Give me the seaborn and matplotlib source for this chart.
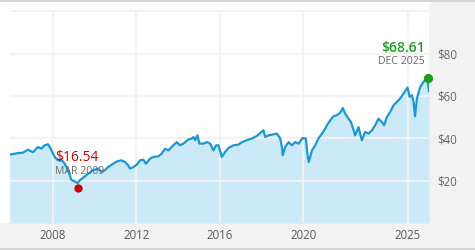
import matplotlib
matplotlib.use("Agg")
import matplotlib.pyplot as plt
from matplotlib.patches import Rectangle
import seaborn as sns
import pandas as pd

# ---- data ----
years = [2005.92, 2006.32, 2006.56, 2006.80, 2007.04, 2007.28, 2007.44, 2007.60, 2007.76, 2007.89,
         2008.08, 2008.24, 2008.40, 2008.56, 2008.72, 2008.88, 2009.04, 2009.18, 2009.28, 2009.44,
         2009.68, 2009.92, 2010.16, 2010.32, 2010.48, 2010.64, 2010.88, 2011.07, 2011.29, 2011.45,
         2011.61, 2011.69, 2011.85, 2012.01, 2012.17, 2012.33, 2012.46, 2012.65, 2012.81, 2013.05,
         2013.21, 2013.37, 2013.53, 2013.69, 2013.85, 2013.93, 2014.09, 2014.25, 2014.49, 2014.65,
         2014.73, 2014.81, 2014.92, 2015.02, 2015.21, 2015.37, 2015.53, 2015.69, 2015.82, 2015.93,
         2016.09, 2016.25, 2016.41, 2016.65, 2016.89, 2017.05, 2017.29, 2017.53, 2017.77, 2017.93,
         2018.09, 2018.17, 2018.33, 2018.49, 2018.73, 2018.89, 2018.97, 2019.01, 2019.13, 2019.29,
         2019.45, 2019.61, 2019.77, 2019.96, 2020.12, 2020.21, 2020.26, 2020.41, 2020.57, 2020.72,
         2020.89, 2021.05, 2021.13, 2021.29, 2021.44, 2021.61, 2021.77, 2021.89, 2022.00, 2022.16,
         2022.28, 2022.36, 2022.48, 2022.64, 2022.80, 2022.96, 2023.12, 2023.29, 2023.44, 2023.60,
         2023.76, 2023.87, 2024.00, 2024.16, 2024.32, 2024.48, 2024.64, 2024.80, 2024.99, 2025.09,
         2025.20, 2025.28, 2025.35, 2025.44, 2025.60, 2025.76, 2025.89, 2025.95, 2026.02]
prices = [32.3, 33.0, 33.2, 34.6, 33.4, 35.9, 35.1, 36.7, 37.2, 35.1,
          31.2, 29.6, 29.9, 28.0, 24.9, 20.4, 19.6, 18.8, 20.1, 21.4,
          23.3, 24.9, 25.7, 24.1, 24.9, 26.4, 28.0, 29.1, 29.6, 28.8,
          27.2, 25.7, 26.4, 27.5, 29.6, 29.9, 28.0, 30.4, 31.2, 31.5,
          32.8, 35.1, 34.3, 35.9, 37.5, 38.2, 36.7, 37.5, 39.4, 39.9,
          40.6, 39.1, 41.4, 37.5, 37.5, 38.2, 37.5, 34.3, 36.7, 36.7,
          31.2, 33.5, 35.4, 36.7, 37.0, 38.2, 39.1, 39.9, 41.1, 42.5,
          43.8, 40.6, 41.4, 41.7, 42.2, 39.9, 35.9, 32.0, 35.9, 38.2,
          36.7, 38.2, 37.5, 40.1, 39.9, 31.2, 28.8, 34.3, 36.7, 39.9,
          42.2, 44.6, 46.2, 48.5, 50.4, 50.9, 52.2, 54.3, 51.7, 49.3,
          47.7, 45.3, 41.4, 45.3, 39.1, 43.0, 42.2, 43.8, 46.2, 49.3,
          47.7, 46.2, 50.1, 52.4, 55.6, 57.2, 58.8, 61.2, 64.0, 59.6,
          60.4, 57.2, 50.4, 58.8, 64.3, 66.7, 67.9, 67.5, 62.2]

low_year, low_value, low_label, low_date = 2009.18, 16.54, "$16.54", "MAR 2009"
high_year, high_value, high_label, high_date = 2025.97, 68.61, "$68.61", "DEC 2025"

x_ticks = [2008, 2012, 2016, 2020, 2025]
x_tick_labels = ["2008", "2012", "2016", "2020", "2025"]
y_ticks = [20, 40, 60, 80, 100]
y_tick_labels = ["$20", "$40", "$60", "$80", ""]

df = pd.DataFrame({"year": years, "price": prices})

# ---- style ----
sns.set_style("white")
plt.rcParams["font.family"] = ["Open Sans", "DejaVu Sans"]

W, H = 475, 250
fig = plt.figure(figsize=(W / 100, H / 100), dpi=100, facecolor="white")

gray = "#f2f2f2"
# background bands (drawn beneath the axes)
for (x0, y0, w, h, c) in [
    (0, 2 / H, 1, 25 / H, gray),
    (429 / W, 2 / H, 1 - 429 / W, 246 / H, gray),
    (0, 248 / H, 1, 2 / H, "#d6d6d6"),
    (0, 0, 1, 2 / H, "#d6d6d6"),
]:
    fig.patches.append(Rectangle((x0, y0), w, h, transform=fig.transFigure,
                                 facecolor=c, edgecolor="none", zorder=-5))

ax = fig.add_axes([10 / W, 27 / H, 419 / W, 213 / H])
ax.set_facecolor("white")

line_color = "#1a98d6"
fill_color = "#cce9f7"

ax.fill_between(df["year"], df["price"], 0, color=fill_color, linewidth=0, zorder=1)
sns.lineplot(data=df, x="year", y="price", ax=ax, color=line_color, linewidth=1.6, zorder=3)

ax.set_xlim(2005.94, 2026.02)
ax.set_ylim(0, 100.6)

ax.set_xticks(x_ticks)
ax.set_xticklabels(x_tick_labels)
ax.set_yticks(y_ticks)
ax.set_yticklabels(y_tick_labels)
ax.yaxis.tick_right()
ax.tick_params(axis="x", length=0, pad=4.5, labelsize=8.3, labelcolor="#5a5a5a")
ax.tick_params(axis="y", length=0, pad=5.8, labelsize=8.3, labelcolor="#666666")
ax.set_xlabel("")
ax.set_ylabel("")
for s in ax.spines.values():
    s.set_visible(False)

ax.set_axisbelow(False)
ax.grid(True, color="#f2f2f2", linewidth=1.6, alpha=0.9)

# markers
ax.scatter([low_year], [low_value], s=36, color="#cc0000", zorder=5, clip_on=False, linewidths=0)
ax.scatter([high_year], [high_value], s=44, color="#1a9e1a", zorder=5, clip_on=False, linewidths=0)

ax.annotate(low_label, (low_year, low_value), xytext=(-22, 30), textcoords="offset pixels",
            ha="left", va="center", fontsize=10, color="#cc0000", zorder=6)
ax.annotate(low_date, (low_year, low_value), xytext=(-23, 16), textcoords="offset pixels",
            ha="left", va="center", fontsize=7.6, color="#6b6b6b", zorder=6)
ax.annotate(high_label, (high_year, high_value), xytext=(-3, 30), textcoords="offset pixels",
            ha="right", va="center", fontsize=10, color="#1a9e1a", fontweight="semibold", zorder=6)
ax.annotate(high_date, (high_year, high_value), xytext=(-3, 16), textcoords="offset pixels",
            ha="right", va="center", fontsize=7.6, color="#6b6b6b", zorder=6)

fig.savefig("out.png", dpi=100, facecolor=fig.get_facecolor())
